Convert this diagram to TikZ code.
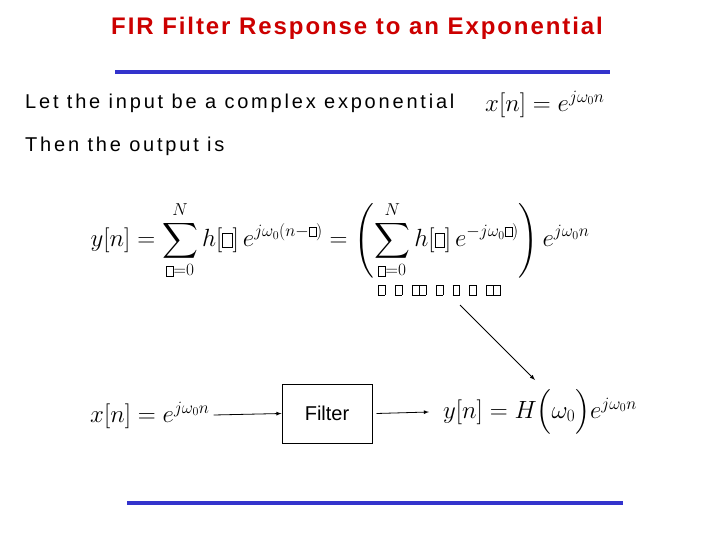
\documentclass[tikz,border=0pt]{standalone}
\usepackage{amsmath}
\usepackage{fontspec}
\setmainfont{Liberation Sans}
\newfontfamily\spaced[LetterSpace=14]{Liberation Sans}
\newfontfamily\spacedt[LetterSpace=8]{Liberation Sans}
\newcommand{\gb}{\text{\setlength{\fboxsep}{0pt}\setlength{\fboxrule}{0.4pt}\fbox{\rule{0pt}{1.1ex}\hspace{0.4em}}}}
\begin{document}
\begin{tikzpicture}[x=1pt,y=-1pt,
  txt/.style={anchor=west,inner sep=0,font=\spaced\fontsize{20}{24}\selectfont},
  eq/.style={inner sep=0,font=\fontsize{24}{28}\selectfont},
  rule/.style={draw={rgb,255:red,51;green,51;blue,204},line width=3.5pt},
  arr/.style={-latex,line width=0.8pt}]
\useasboundingbox (0,0) rectangle (720,540);
\node[inner sep=0,text={rgb,255:red,204;green,0;blue,0},font=\spacedt\bfseries\fontsize{24}{26}\selectfont] (title) at (357,28) {FIR Filter Response to an Exponential};
\coordinate (r1a) at (115,72); \coordinate (r1b) at (610,72);
\draw[rule] (r1a) -- (r1b);
\node[txt] (t1) at (25,103) {Let the input be a complex exponential};
\node[eq,anchor=west] (e1) at (485,104) {$x[n]=e^{j\omega_0 n}$};
\node[txt] (t2) at (25,146) {Then the output is};
\node[eq,font=\fontsize{23.5}{28}\selectfont] (e2) at (340,240) {$\displaystyle y[n]=\sum_{\gb=0}^{N} h[\gb]\,e^{j\omega_0(n-\gb)} = \left(\sum_{\gb=0}^{N} h[\gb]\,e^{-j\omega_0\gb)}\right)e^{j\omega_0 n}$};
\node[inner sep=0,anchor=west,font=\fontsize{16}{18}\selectfont] (bx) at (378,290) {$\gb\;\;\gb\;\;\gb\gb\;\;\gb\;\;\gb\;\;\gb\;\;\gb\gb$};
\coordinate (a1) at (460,305);
\node[eq,anchor=west] (e4) at (443,412) {$y[n]=H\Bigl(\omega_0\Bigr)e^{j\omega_0 n}$};
\draw[arr] (a1) -- (535,380);
\node[eq,anchor=west] (e3) at (90,415) {$x[n]=e^{j\omega_0 n}$};
\node[draw,line width=1pt,minimum width=90,minimum height=59,inner sep=0,font=\fontsize{20}{24}\selectfont] (f) at (327,413.5) {Filter};
\draw[arr] ([xshift=4]e3.east) -- (f.west);
\draw[arr] ([xshift=4]f.east) -- ([xshift=-14]e4.west);
\coordinate (r2a) at (127,503); \coordinate (r2b) at (623,503);
\draw[rule] (r2a) -- (r2b);
\end{tikzpicture}
\end{document}
